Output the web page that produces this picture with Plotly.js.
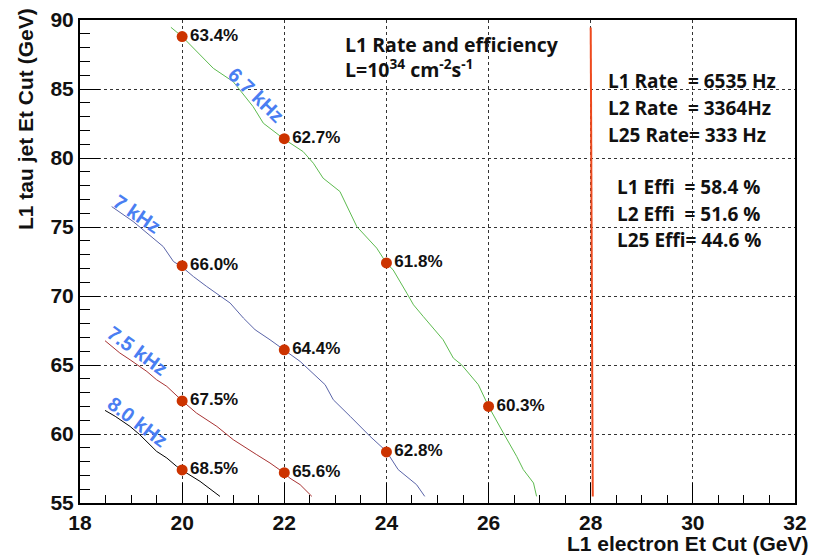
<!DOCTYPE html>
<html><head><meta charset="utf-8">
<script src="https://cdn.plot.ly/plotly-3.0.1.min.js"></script>
<style>body{margin:0;background:#fff}#c{width:814px;height:557px}</style>
</head><body><div id="c"></div>
<script>
// 6.7 kHz contour (green)
const g67x = [19.78,20.0,20.61,21.0,21.13,21.39,21.59,22.0,22.37,22.57,22.76,23.09,23.42,23.81,24.0,24.13,24.4,24.53,24.72,25.11,25.31,25.47,25.8,26.0,26.29,26.55,26.68,26.88,26.94];
const g67y = [89.47,88.8,86.5,85.53,84.93,83.72,82.52,81.36,80.46,79.62,78.54,77.57,75.03,73.47,72.38,71.9,70.2,69.36,68.52,66.83,65.5,65.02,63.57,62.0,60.07,58.38,57.42,56.45,55.48];
// 7 kHz contour (blue)
const b7x = [18.62,19.04,19.63,19.83,20.0,20.22,20.48,20.94,21.2,21.43,21.72,22.0,22.31,22.8,22.96,23.29,23.68,24.0,24.23,24.59,24.75];
const b7y = [76.48,75.4,73.58,72.5,72.1,71.41,70.69,69.49,68.4,67.55,66.83,66.1,65.26,63.57,62.48,61.28,59.83,58.74,57.42,56.33,55.48];
// 7.5 kHz contour (red)
const r75x = [18.49,18.78,18.98,19.31,19.5,19.7,20.0,20.28,20.68,21.0,21.46,21.72,22.0,22.11,22.31,22.54];
const r75y = [66.76,65.87,65.38,64.53,63.93,63.45,62.41,61.52,60.55,59.59,58.5,57.9,57.17,56.8,56.33,55.48];
// 8.0 kHz contour (black)
const k80x = [18.49,18.69,18.98,19.17,19.5,19.7,19.89,20.0,20.35,20.74];
const k80y = [61.71,61.28,60.55,59.95,58.74,58.26,57.66,57.37,56.57,55.48];
// vertical cut line
const cutX = [28.0,28.04];
const cutY = [89.45,55.48];
// efficiency points
const ptX = [20,22,24,26,20,22,24,20,22,20];
const ptY = [88.8,81.4,72.4,62.0,72.2,66.1,58.7,62.4,57.2,57.4];
const ptLabels = ["63.4%","62.7%","61.8%","60.3%","66.0%","64.4%","62.8%","67.5%","65.6%","68.5%"];
// tick labels
const xTicks = [18,20,22,24,26,28,30,32];
const yTicks = [55,60,65,70,75,80,85,90];
// contour labels
const rateLabels = ["6.7 kHz","7 kHz","7.5 kHz","8.0 kHz"];
const summaryLines = ["L1 Rate&nbsp;&nbsp;= 6535 Hz","L2 Rate&nbsp;&nbsp;= 3364Hz","L25 Rate= 333 Hz"];
const effiLines = ["L1 Effi&nbsp;&nbsp;= 58.4 %","L2 Effi&nbsp;&nbsp;= 51.6 %","L25 Effi= 44.6 %"];

const F = "Liberation Sans, Arial, sans-serif";
const F2 = "Open Sans, sans-serif";
const L=80, T=20, W=715, H=483;
const px = v => (v-L)/W, py = v => 1-(v-T)/H;
const B = s => '<b>'+s+'</b>';
const line = (x,y,c,w)=>({x:x,y:y,type:'scatter',mode:'lines',line:{color:c,width:w||1},hoverinfo:'skip',showlegend:false});
const data = [
  line(g67x,g67y,'#5dbb4f'),
  line(b7x,b7y,'#5a64a8'),
  line(r75x,r75y,'#a83232'),
  line(k80x,k80y,'#000000'),
  line(cutX,cutY,'#ee4a1e',2),
  {x:ptX,y:ptY,text:ptLabels.map(B),type:'scatter',mode:'markers+text',textposition:'middle right',
   marker:{color:'#cc3300',size:11},textfont:{family:F,size:17,color:'#111'},showlegend:false,cliponaxis:false}
];
const lblPos = [[21.45,84.6,44],[19.12,75.95,34],[19.13,66.03,36],[19.13,60.85,37]];
const ann = rateLabels.map((t,i)=>({x:lblPos[i][0],y:lblPos[i][1],xref:'x',yref:'y',text:B(t),showarrow:false,
  textangle:lblPos[i][2],font:{family:F,size:20,color:'#4a7ef2'}}));
ann.push({xref:'paper',yref:'paper',x:px(343),y:py(29),xanchor:'left',yanchor:'top',align:'left',
  text:B('L1 Rate and efficiency<br>L=10<sup>34</sup> cm<sup>-2</sup>s<sup>-1</sup>'),showarrow:false,font:{family:F2,size:19.5,color:'#111'}});
summaryLines.forEach((t,i)=>ann.push({xref:'paper',yref:'paper',x:px(606),y:py(81+27*i),xanchor:'left',yanchor:'middle',text:B(t),showarrow:false,font:{family:F2,size:19,color:'#111'}}));
effiLines.forEach((t,i)=>ann.push({xref:'paper',yref:'paper',x:px(615),y:py(187+26.5*i),xanchor:'left',yanchor:'middle',text:B(t),showarrow:false,font:{family:F2,size:19,color:'#111'}}));
ann.push({xref:'paper',yref:'paper',x:px(811),y:py(543),xanchor:'right',yanchor:'middle',text:B('L1 electron Et Cut (GeV)'),showarrow:false,font:{family:F,size:21,color:'#111'}});
ann.push({xref:'paper',yref:'paper',x:px(25),y:py(6),xanchor:'center',yanchor:'top',textangle:-90,text:B('L1 tau jet Et Cut (GeV)'),showarrow:false,font:{family:F,size:21,color:'#111'}});

const layout = {
  width:814,height:557,margin:{l:80,r:19,t:20,b:54},paper_bgcolor:'#fff',plot_bgcolor:'#fff',
  xaxis:{range:[18,32],tickvals:xTicks,ticktext:xTicks.map(v=>B(v)),ticks:'inside',ticklen:20,tickwidth:1,tickcolor:'#000',
    showline:true,linewidth:2,linecolor:'#000',mirror:true,zeroline:false,
    showgrid:true,gridcolor:'#333',griddash:'dot',gridwidth:1,
    minor:{dtick:0.5,tick0:18,ticks:'inside',ticklen:8,tickcolor:'#000',showgrid:false},
    tickfont:{family:F,size:21,color:'#111'}},
  yaxis:{range:[55,90],tickvals:yTicks,ticktext:yTicks.map(v=>B(v)),ticks:'inside',ticklen:20,tickwidth:1,tickcolor:'#000',
    showline:true,linewidth:2,linecolor:'#000',mirror:true,zeroline:false,
    showgrid:true,gridcolor:'#333',griddash:'dot',gridwidth:1,
    minor:{dtick:1,tick0:55,ticks:'inside',ticklen:10,tickcolor:'#000',showgrid:false},
    tickfont:{family:F,size:21,color:'#111'}},
  annotations:ann,showlegend:false
};
Plotly.newPlot('c',data,layout,{displayModeBar:false,staticPlot:true});
</script></body></html>
